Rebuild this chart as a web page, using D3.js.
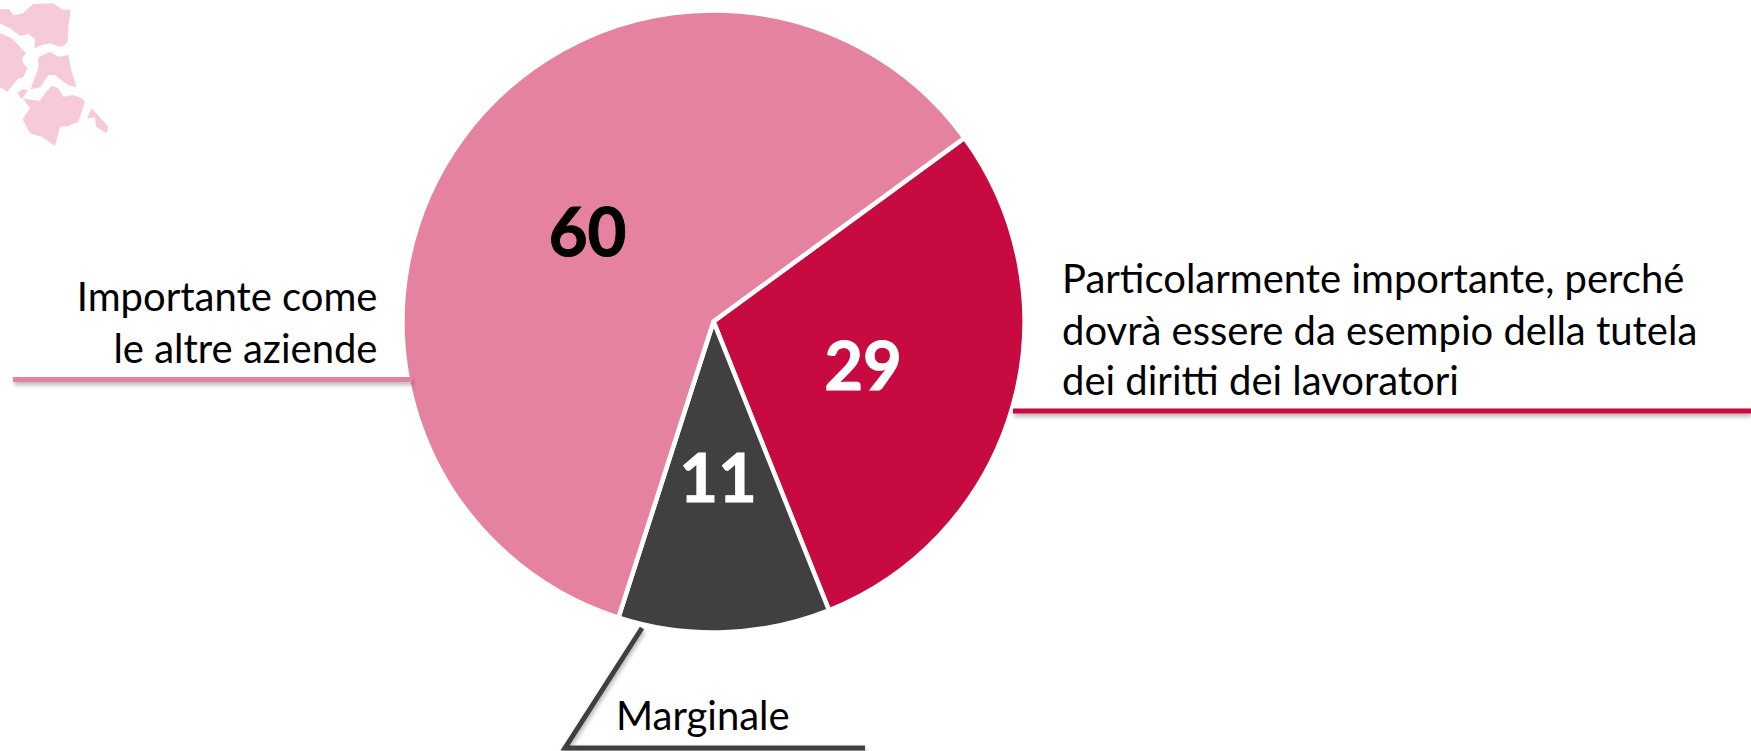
<!DOCTYPE html>
<html>
<head>
<meta charset="utf-8">
<script src="https://cdn.jsdelivr.net/npm/d3@7"></script>
<style>
    html, body { margin: 0; padding: 0; background: #fff; }
    svg { display: block; }
    text { font-family: Lato, "Open Sans", sans-serif; fill: #000; }
</style>
</head>
<body>
<div id="chart"></div>
<script>
// slices, clockwise from the red one
var categories = ['Particolarmente importante', 'Marginale', 'Importante come le altre aziende'];
var values = [29, 11, 60];
var colors = ['#C70A40', '#404040', '#E5829F'];
var valueColors = ['#fff', '#fff', '#000'];

// label text, line by line
var labelLines = [
    ['Particolarmente importante, perché', 'dovrà essere da esempio della tutela', 'dei diritti dei lavoratori'],
    ['Marginale'],
    ['Importante come', 'le altre aziende']
];

// faded map in the corner (3x zoom coordinates)
var mapShapes = [
    [[0,28],[28,28],[40,45],[65,42],[100,12],[160,10],[185,28],[212,30],[205,80],[203,125],[190,138],[178,140],[165,136],[150,130],[125,135],[103,145],[105,118],[85,102],[62,108],[30,85],[0,70]],
    [[0,100],[35,115],[55,135],[78,160],[66,175],[70,190],[82,205],[70,232],[55,235],[22,275],[0,262]],
    [[115,172],[150,155],[175,170],[205,165],[215,215],[230,262],[205,255],[190,245],[165,225],[145,225],[120,262],[92,268],[115,205]],
    [[52,278],[70,268],[85,270],[65,297]],
    [[68,295],[95,300],[120,302],[135,280],[155,258],[175,265],[190,290],[220,285],[245,295],[255,305],[235,365],[205,378],[180,380],[165,438],[125,410],[90,400],[68,358],[90,325]],
    [[275,325],[325,380],[320,400],[288,380],[285,352],[262,355]]
];

var width = 1751;
var height = 751;

var svg = d3.select('#chart')
    .append('svg')
    .attr('width', width)
    .attr('height', height);

var defs = svg.append('defs');
// user space units: the horizontal leaders have a zero height box
var shadow = defs.append('filter')
    .attr('id', 'lineShadow')
    .attr('filterUnits', 'userSpaceOnUse')
    .attr('x', 0).attr('y', 0)
    .attr('width', width).attr('height', height);
shadow.append('feDropShadow')
    .attr('dx', 1).attr('dy', 3)
    .attr('stdDeviation', 2)
    .attr('flood-color', '#000')
    .attr('flood-opacity', 0.3);

// map
var mapScale = d3.scaleLinear().domain([0, 3]).range([0, 1]);
var mapLine = d3.line()
    .x(function(d) { return mapScale(d[0]); })
    .y(function(d) { return mapScale(d[1]); })
    .curve(d3.curveLinearClosed);

svg.append('g')
    .selectAll('path')
    .data(mapShapes)
    .enter()
    .append('path')
    .attr('d', mapLine)
    .attr('fill', '#F6CAD8');

// pie
var cx = 713.5;
var cy = 321.5;
var radius = 311;
var startAngle = 53.8 * Math.PI / 180;

var pie = d3.pie()
    .sort(null)
    .startAngle(startAngle)
    .endAngle(startAngle + 2 * Math.PI);

var arc = d3.arc().innerRadius(0).outerRadius(radius);

var pieG = svg.append('g')
    .attr('transform', 'translate(' + cx + ',' + cy + ')');

pieG.selectAll('path')
    .data(pie(values))
    .enter()
    .append('path')
    .attr('d', arc)
    .attr('fill', function(d, i) { return colors[i]; })
    .attr('stroke', '#fff')
    .attr('stroke-width', 4.5)
    .attr('stroke-linejoin', 'miter');

// leader lines sit on top of the pie edge
var leaders = [
    { pts: [[1013, 411], [1751, 411]], color: colors[0] },
    { pts: [[642, 628], [565, 748], [865, 748]], color: colors[1] },
    { pts: [[13, 379.5], [412, 379.5]], color: colors[2] }
];

svg.append('g')
    .selectAll('path')
    .data(leaders)
    .enter()
    .append('path')
    .attr('d', function(d) { return d3.line()(d.pts); })
    .attr('fill', 'none')
    .attr('stroke', function(d) { return d.color; })
    .attr('stroke-width', 5)
    .attr('filter', 'url(#lineShadow)');

// value labels
var valuePos = [[863, 390], [718, 502], [587.5, 256]];

svg.append('g')
    .selectAll('text')
    .data(values)
    .enter()
    .append('text')
    .attr('x', function(d, i) { return valuePos[i][0]; })
    .attr('y', function(d, i) { return valuePos[i][1]; })
    .attr('text-anchor', 'middle')
    .attr('font-size', 67)
    .attr('font-weight', 700)
    .style('fill', function(d, i) { return valueColors[i]; })
    .style('stroke', function(d, i) { return valueColors[i]; })
    .style('stroke-width', 1)
    .text(function(d) { return d; });

// category labels
var labelPos = [
    { x: 1062, y: [293, 344.5, 394.5], anchor: 'start' },
    { x: 616, y: [729.5], anchor: 'start' },
    { x: 377.5, y: [311, 362.5], anchor: 'end' }
];

labelLines.forEach(function(lines, i) {
    svg.append('g')
        .selectAll('text')
        .data(lines)
        .enter()
        .append('text')
        .attr('x', labelPos[i].x)
        .attr('y', function(d, j) { return labelPos[i].y[j]; })
        .attr('text-anchor', labelPos[i].anchor)
        .attr('font-size', 40)
        .text(function(d) { return d; });
});
</script>
</body>
</html>
